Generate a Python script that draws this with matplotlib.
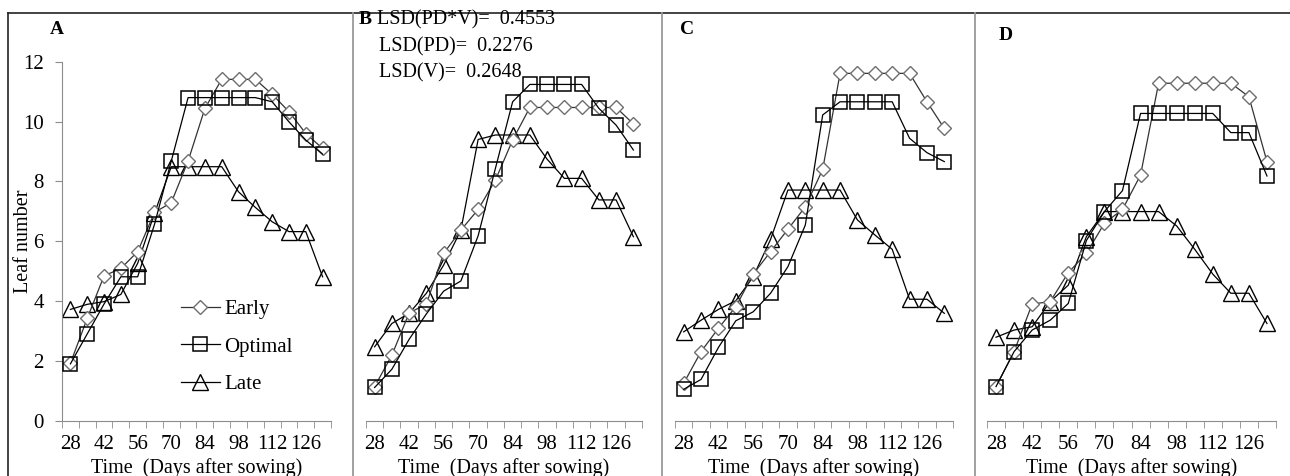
import numpy as np
import matplotlib
matplotlib.use('Agg')
import matplotlib.pyplot as plt
from matplotlib.lines import Line2D

plt.rcParams['font.family'] = ['Liberation Serif', 'DejaVu Serif']

days = [28, 35, 42, 49, 56, 63, 70, 77, 84, 91, 98, 105, 112, 119, 126, 133]
tick_labels = [28, 42, 56, 70, 84, 98, 112, 126]

early_a = [1.92, 3.42, 4.84, 5.09, 5.65, 6.96, 7.29, 8.68, 10.44, 11.41, 11.41, 11.41, 10.91, 10.33, 9.6, 9.1]
optimal_a = [1.9, 2.9, 3.9, 4.81, 4.81, 6.56, 8.68, 10.8, 10.8, 10.8, 10.8, 10.8, 10.66, 9.99, 9.38, 8.91]
late_a = [3.72, 3.89, 3.98, 4.22, 5.26, 6.93, 8.49, 8.49, 8.49, 8.49, 7.65, 7.13, 6.65, 6.32, 6.32, 4.81]

early_b = [1.14, 2.19, 3.6, 3.9, 5.59, 6.37, 7.06, 8.04, 9.38, 10.47, 10.47, 10.47, 10.47, 10.47, 10.47, 9.92]
optimal_b = [1.11, 1.72, 2.72, 3.57, 4.33, 4.67, 6.18, 8.43, 10.66, 11.24, 11.24, 11.24, 11.24, 10.44, 9.88, 9.05]
late_b = [2.47, 3.25, 3.59, 4.26, 5.2, 6.37, 9.4, 9.55, 9.55, 9.55, 8.74, 8.1, 8.1, 7.38, 7.38, 6.15]

early_c = [1.25, 2.31, 3.09, 3.81, 4.9, 5.65, 6.4, 7.15, 8.4, 11.61, 11.61, 11.61, 11.61, 11.61, 10.66, 9.77]
optimal_c = [1.05, 1.38, 2.45, 3.34, 3.64, 4.26, 5.15, 6.54, 10.22, 10.66, 10.66, 10.66, 10.66, 9.44, 8.96, 8.66]
late_c = [2.97, 3.36, 3.72, 4.01, 4.81, 6.06, 7.71, 7.71, 7.71, 7.71, 6.71, 6.21, 5.73, 4.06, 4.06, 3.59]

early_d = [1.14, 2.31, 3.9, 3.98, 4.95, 5.59, 6.6, 7.06, 8.21, 11.28, 11.28, 11.28, 11.28, 11.28, 10.83, 8.66]
optimal_d = [1.14, 2.31, 3.03, 3.36, 3.92, 6.02, 6.99, 7.69, 10.27, 10.27, 10.27, 10.27, 10.27, 9.63, 9.63, 8.18]
late_d = [2.79, 3.03, 3.14, 3.98, 4.53, 6.15, 6.99, 6.99, 6.99, 6.99, 6.51, 5.73, 4.9, 4.26, 4.26, 3.25]

panels = [
    ("A", early_a, optimal_a, late_a, (62, 331)),
    ("B", early_b, optimal_b, late_b, (366, 642)),
    ("C", early_c, optimal_c, late_c, (675, 953)),
    ("D", early_d, optimal_d, late_d, (987, 1276)),
]
lsd_lines = ["LSD(PD*V)=  0.4553", "LSD(PD)=  0.2276", "LSD(V)=  0.2648"]

W, H = 1290, 476
fig = plt.figure(figsize=(W / 100, H / 100), dpi=100)
spine_col = '#8c8c8c'

y0_px, y12_px = 420.7, 61.7
for i, (letter, early, optimal, late, (x0, x1)) in enumerate(panels):
    ax = fig.add_axes([x0 / W, (H - y0_px) / H, (x1 - x0) / W, (y0_px - y12_px) / H])
    ax.plot(days, early, color='#333333', lw=0.9, marker='D', ms=7,
            mfc='white', mec='#6e6e6e', mew=1.0, label='Early', zorder=3)
    ax.plot(days, optimal, color='black', lw=0.9, marker='s', ms=10,
            mfc='none', mec='black', mew=1.1, label='Optimal', zorder=4)
    ax.plot(days, late, color='black', lw=0.9, marker='^', ms=11,
            mfc='none', mec='black', mew=1.0, label='Late', zorder=2)
    ax.set_xlim(24.5, 136.5)
    ax.set_ylim(0, 12)
    ax.set_facecolor('none')
    for s in ['top', 'right']:
        ax.spines[s].set_visible(False)
    ax.spines['bottom'].set_color(spine_col)
    ax.spines['left'].set_color(spine_col)
    ax.set_xticks(tick_labels)
    ax.set_xticklabels([str(t) for t in tick_labels], fontsize=15)
    ax.set_xticks(np.arange(24.5, 137, 7), minor=True)
    ax.tick_params(axis='x', which='major', length=0, pad=10)
    ax.tick_params(axis='x', which='minor', direction='out', length=5,
                   color=spine_col)
    ax.set_xlabel('Time  (Days after sowing)', fontsize=14.5, labelpad=3)
    if i == 0:
        ax.set_yticks(range(0, 13, 2))
        ax.tick_params(axis='y', direction='out', length=5, color=spine_col,
                       labelsize=15, pad=8)
        ax.set_ylabel('Leaf number', fontsize=14.5)
        ax.yaxis.set_label_coords((33 - x0) / (x1 - x0), 0.5)
        ax.legend(loc='upper left', bbox_to_anchor=(0.41, 0.36), frameon=False,
                  fontsize=15, handlelength=1.9, handletextpad=0.2,
                  labelspacing=0.85, borderaxespad=0)
    else:
        ax.spines['left'].set_visible(False)
        ax.set_yticks([])

# panel letters
fig.text(50 / W, 1 - 30 / H, 'A', fontsize=14, fontweight='bold', va='center')
fig.text(359 / W, 1 - 20 / H, 'B', fontsize=14, fontweight='bold', va='center')
fig.text(680 / W, 1 - 30 / H, 'C', fontsize=14, fontweight='bold', va='center')
fig.text(999 / W, 1 - 35 / H, 'D', fontsize=14, fontweight='bold', va='center')

fig.text(377 / W, 1 - 20 / H, lsd_lines[0], fontsize=14.5, va='center')
fig.text(379 / W, 1 - 47 / H, lsd_lines[1], fontsize=14.5, va='center')
fig.text(379 / W, 1 - 73 / H, lsd_lines[2], fontsize=14.5, va='center')

# outer frame and separators
fig.add_artist(Line2D([8 / W, 1], [1 - 13 / H, 1 - 13 / H], color='#222222', lw=1.2))
fig.add_artist(Line2D([8 / W, 8 / W], [0, 1 - 13 / H], color='#222222', lw=1.2))
for xs in [353, 662, 975]:
    fig.add_artist(Line2D([xs / W, xs / W], [0, 1 - 13 / H], color='#9a9a9a', lw=1.3))

fig.savefig('out.png', dpi=100)
